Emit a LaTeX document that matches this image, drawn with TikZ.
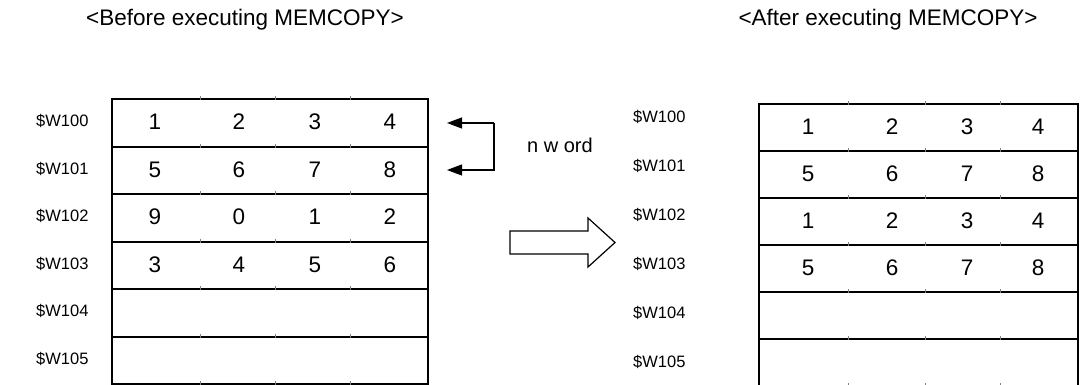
\documentclass[tikz,border=0pt]{standalone}
\usepackage{fontspec}
\setmainfont{Liberation Sans}
\usetikzlibrary{arrows.meta}
\tikzset{
  word/.style={draw, line width=2pt, inner sep=0pt, anchor=north west,
    minimum width=316pt, minimum height=47.5pt},
  wordR/.style={word, minimum width=319pt, minimum height=47pt},
  digit/.style={inner sep=0pt, font=\fontsize{22.5}{26}\selectfont},
  addr/.style={inner sep=0pt, anchor=west, font=\fontsize{16.5}{19}\selectfont},
  title/.style={inner sep=0pt, font=\fontsize{22.5}{26}\selectfont},
  tick/.style={line width=0.5pt, black!50},
  pointer/.style={line width=1.2pt, -{Triangle[length=15pt,width=11pt]}}
}
\begin{document}
\begin{tikzpicture}[x=1pt, y=-1pt]
  \useasboundingbox (0,0) rectangle (1086,385);
  \node[title] (before) at (245,20) {<Before executing MEMCOPY>};
  \node[title] (after) at (888,20) {<After executing MEMCOPY>};
  % left memory
  \foreach \i in {0,...,5} {
    \node[word] (L\i) at (110.5,{98+47.5*\i}) {};
    \node[addr] (la\i) at (36,{121+47.5*\i}) {\$W10\i};
  }
  \foreach \r/\a/\b/\c/\d in {0/1/2/3/4, 1/5/6/7/8, 2/9/0/1/2, 3/3/4/5/6} {
    \node[digit] (L\r a) at (155,{122+47.5*\r}) {\a};
    \node[digit] (L\r b) at (239,{122+47.5*\r}) {\b};
    \node[digit] (L\r c) at (315,{122+47.5*\r}) {\c};
    \node[digit] (L\r d) at (390,{122+47.5*\r}) {\d};
  }
  \foreach \i in {0,...,6}
    \foreach \x in {200,275,350}
      \draw[tick] (\x,{98+47.5*\i-2}) -- (\x,{98+47.5*\i+2});
  % right memory
  \foreach \i in {0,...,5} {
    \node[wordR] (R\i) at (758,{103+47*\i}) {};
    \node[addr] (ra\i) at (633,{117+49*\i}) {\$W10\i};
  }
  \foreach \r/\a/\b/\c/\d in {0/1/2/3/4, 1/5/6/7/8, 2/1/2/3/4, 3/5/6/7/8} {
    \node[digit] (R\r a) at (808,{127+47*\r}) {\a};
    \node[digit] (R\r b) at (892,{127+47*\r}) {\b};
    \node[digit] (R\r c) at (967,{127+47*\r}) {\c};
    \node[digit] (R\r d) at (1038,{127+47*\r}) {\d};
  }
  \foreach \i in {0,...,6}
    \foreach \x in {848,925,1000}
      \draw[tick] (\x,{103+47*\i-2}) -- (\x,{103+47*\i+2});
  % n word bracket
  \coordinate (p0) at (447,123);
  \coordinate (p1) at (447,170);
  \coordinate (bend) at (494,146.5);
  \draw[pointer] (bend |- p0) -- (p0);
  \draw[pointer] (bend |- p0) -- (bend |- p1) -- (p1);
  \node[addr, font=\fontsize{20}{23}\selectfont] (nword) at (527,145) {n w ord};
  % copy arrow
  \draw[line width=1.2pt] (510,231) -- (588,231) -- (588,218) -- (615,242.5)
    -- (588,267) -- (588,254) -- (510,254) -- cycle;
\end{tikzpicture}
\end{document}
